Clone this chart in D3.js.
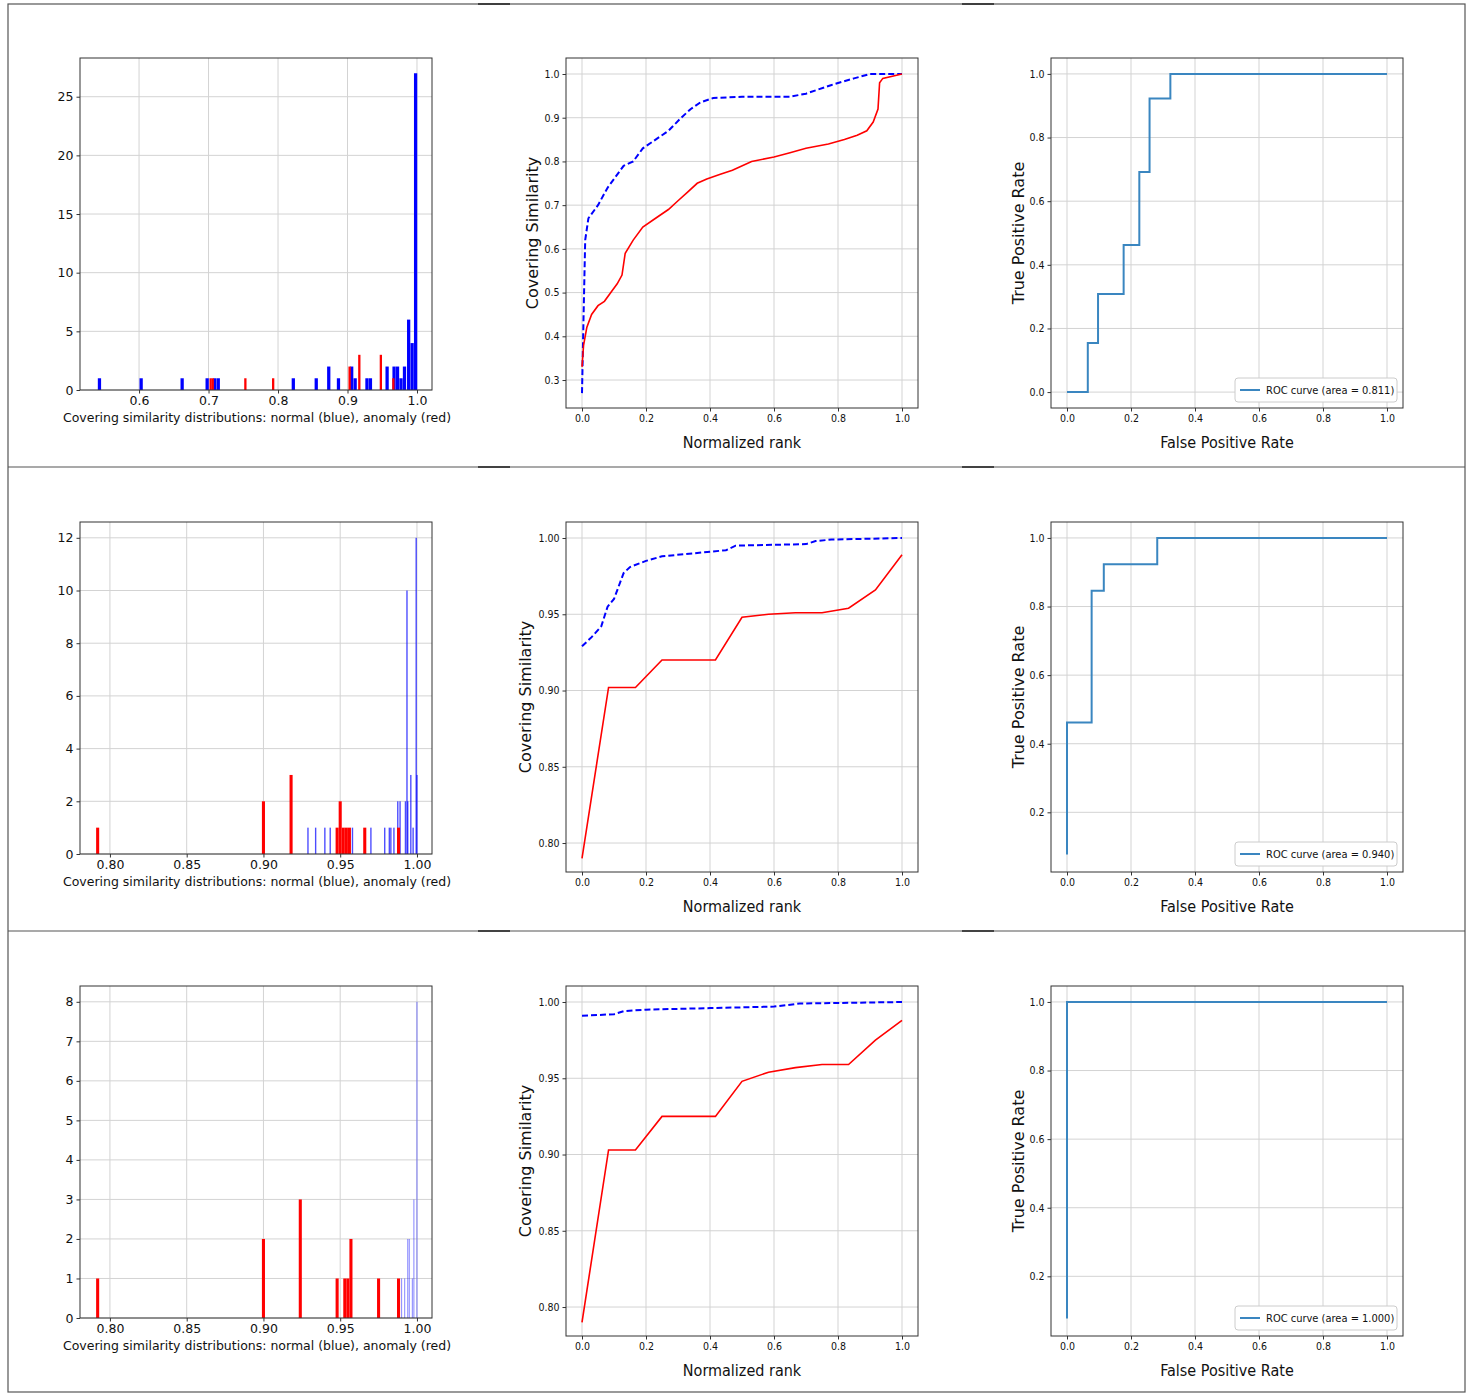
<!DOCTYPE html>
<html><head><meta charset="utf-8">
<script src="https://cdn.jsdelivr.net/npm/d3@7"></script>
<style>body{margin:0;background:#fff}</style></head>
<body><svg id="c" width="1470" height="1393"></svg>
<script>
// ---- data ----
const hist1Blue=[[0.543,1],[0.603,1],[0.662,1],[0.698,1],[0.709,1],[0.714,1],[0.822,1],[0.855,1],[0.873,2],[0.887,1],[0.906,2],[0.911,1],[0.928,1],[0.933,1],[0.957,2],[0.967,2],[0.972,2],[0.977,1],[0.982,2],[0.988,6],[0.993,4],[0.998,27]];
const hist1Red=[[0.703,1],[0.706,1],[0.753,1],[0.793,1],[0.903,2],[0.917,3],[0.948,3],[0.966,1]];
const hist2Blue=[[0.929,1],[0.934,1],[0.940,1],[0.9435,1],[0.958,1],[0.970,1],[0.979,1],[0.982,1],[0.983,1],[0.985,1],[0.9875,2],[0.989,2],[0.9925,2],[0.9935,10],[0.994,2],[0.996,3],[0.9975,1],[0.9995,12],[1.0,3]];
const hist2Red=[[0.792,1],[0.900,2],[0.918,3],[0.948,1],[0.950,2],[0.952,1],[0.954,1],[0.956,1],[0.966,1],[0.988,1]];
const hist3Blue=[[0.990,1],[0.992,1],[0.994,2],[0.995,2],[0.997,1],[0.998,3],[1.0,8]];
const hist3Red=[[0.792,1],[0.900,2],[0.924,3],[0.948,1],[0.953,1],[0.955,1],[0.957,2],[0.975,1],[0.988,1]];
const rank1Red=[[0,0.33],[0.005,0.38],[0.015,0.42],[0.03,0.45],[0.05,0.47],[0.07,0.48],[0.09,0.5],[0.11,0.52],[0.125,0.54],[0.135,0.59],[0.16,0.62],[0.19,0.65],[0.23,0.67],[0.27,0.69],[0.3,0.71],[0.33,0.73],[0.36,0.75],[0.39,0.76],[0.43,0.77],[0.47,0.78],[0.53,0.8],[0.6,0.81],[0.65,0.82],[0.7,0.83],[0.77,0.84],[0.82,0.85],[0.86,0.86],[0.89,0.87],[0.91,0.89],[0.925,0.92],[0.93,0.98],[0.94,0.99],[1,1]];
const rank1Blue=[[0,0.27],[0.005,0.45],[0.01,0.62],[0.02,0.67],[0.05,0.7],[0.08,0.74],[0.1,0.76],[0.13,0.79],[0.16,0.8],[0.19,0.83],[0.23,0.85],[0.27,0.87],[0.31,0.9],[0.34,0.92],[0.37,0.935],[0.41,0.945],[0.5,0.948],[0.65,0.948],[0.7,0.955],[0.78,0.975],[0.85,0.99],[0.9,1],[1,1]];
const rank2Red=[[0,0.79],[0.083,0.902],[0.167,0.902],[0.25,0.92],[0.417,0.92],[0.5,0.948],[0.583,0.95],[0.667,0.951],[0.75,0.951],[0.833,0.954],[0.917,0.966],[1,0.989]];
const rank2Blue=[[0,0.929],[0.03,0.935],[0.06,0.942],[0.08,0.955],[0.1,0.96],[0.13,0.977],[0.15,0.981],[0.2,0.985],[0.25,0.988],[0.35,0.99],[0.45,0.992],[0.48,0.995],[0.7,0.996],[0.73,0.998],[0.78,0.999],[1,1]];
const rank3Red=[[0,0.79],[0.083,0.903],[0.167,0.903],[0.25,0.925],[0.417,0.925],[0.5,0.948],[0.583,0.954],[0.667,0.957],[0.75,0.959],[0.833,0.959],[0.917,0.975],[1,0.988]];
const rank3Blue=[[0,0.991],[0.1,0.992],[0.13,0.994],[0.2,0.995],[0.4,0.996],[0.6,0.997],[0.68,0.999],[1,1]];
const roc1=[[0,0],[0.065,0],[0.065,0.154],[0.097,0.154],[0.097,0.308],[0.177,0.308],[0.177,0.462],[0.226,0.462],[0.226,0.692],[0.258,0.692],[0.258,0.923],[0.323,0.923],[0.323,1],[1,1]];
const roc2=[[0,0.077],[0,0.462],[0.077,0.462],[0.077,0.846],[0.115,0.846],[0.115,0.923],[0.282,0.923],[0.282,1],[1,1]];
const roc3=[[0,0.077],[0,1],[1,1]];
const aucLabels=["ROC curve (area = 0.811)","ROC curve (area = 0.940)","ROC curve (area = 1.000)"];
const histTicks1=[0.6,0.7,0.8,0.9,1.0], histYTicks1=[0,5,10,15,20,25];
const histTicks2=[0.80,0.85,0.90,0.95,1.00], histYTicks2=[0,2,4,6,8,10,12], histYTicks3=[0,1,2,3,4,5,6,7,8];
const rankYTicks1=[0.3,0.4,0.5,0.6,0.7,0.8,0.9,1.0], rankYTicks2=[0.80,0.85,0.90,0.95,1.00];
const unitTicks=[0,0.2,0.4,0.6,0.8,1.0], rocYTicks2=[0.2,0.4,0.6,0.8,1.0];

const svg=d3.select("#c");
svg.append("rect").attr("x",8).attr("y",4).attr("width",1457).attr("height",1388).attr("fill","none").attr("stroke","#555").attr("stroke-width",1.2);
[467,931].forEach(y=>svg.append("line").attr("x1",8).attr("x2",1465).attr("y1",y).attr("y2",y).attr("stroke","#555").attr("stroke-width",1.2));
[[478,510],[962,994]].forEach(([a,b])=>[4,467,931].forEach(y=>svg.append("line").attr("x1",a).attr("x2",b).attr("y1",y).attr("y2",y).attr("stroke","#222").attr("stroke-width",1.5)));

function panel(o){
  const g=svg.append("g");
  const x=d3.scaleLinear().domain(o.xd).range([o.x0,o.x1]);
  const y=d3.scaleLinear().domain(o.yd).range([o.y1,o.y0]);
  const fam=o.cond?"DejaVu Sans Condensed, DejaVu Sans":"DejaVu Sans";
  o.xt.forEach(t=>g.append("line").attr("x1",x(t)).attr("x2",x(t)).attr("y1",o.y0).attr("y2",o.y1).attr("stroke","#d3d3d3"));
  o.yt.forEach(t=>g.append("line").attr("y1",y(t)).attr("y2",y(t)).attr("x1",o.x0).attr("x2",o.x1).attr("stroke","#d3d3d3"));
  o.draw(g,x,y);
  g.append("rect").attr("x",o.x0).attr("y",o.y0).attr("width",o.x1-o.x0).attr("height",o.y1-o.y0).attr("fill","none").attr("stroke","#333");
  const ax=g.append("g").attr("transform",`translate(0,${o.y1})`).call(d3.axisBottom(x).tickValues(o.xt).tickFormat(d3.format(o.xf)).tickSize(3.5));
  const ay=g.append("g").attr("transform",`translate(${o.x0},0)`).call(d3.axisLeft(y).tickValues(o.yt).tickFormat(d3.format(o.yf)).tickSize(3.5));
  [ax,ay].forEach(a=>{a.select(".domain").remove();a.selectAll("text").attr("font-family",fam).attr("font-size",o.fs).attr("fill","#111");a.selectAll("line").attr("stroke","#333");});
  if(o.xl) g.append("text").attr("x",o.xlx||(o.x0+o.x1)/2).attr("y",o.y1+o.xly).attr("text-anchor","middle").attr("font-family",fam).attr("font-size",o.lfs).attr("fill","#111").text(o.xl);
  if(o.yl) g.append("text").attr("transform",`translate(${o.x0-o.ylx},${(o.y0+o.y1)/2}) rotate(-90)`).attr("text-anchor","middle").attr("font-family","DejaVu Sans").attr("font-size",o.lfs).attr("fill","#111").text(o.yl);
}
function bars(data,w,col,op){return (g,x,y)=>g.selectAll(null).data(data).enter().append("rect")
  .attr("x",d=>x(d[0]-w/2)).attr("width",d=>Math.max(1,x(d[0]+w/2)-x(d[0]-w/2))).attr("y",d=>y(d[1])).attr("height",d=>y(0)-y(d[1])).attr("fill",col).attr("opacity",op);}
const line=(x,y)=>d3.line().x(d=>x(d[0])).y(d=>y(d[1]));

const rows=[
 {hb:hist1Blue,hr:hist1Red,hxd:[0.515,1.0216],hyd:[0,28.3],hxt:histTicks1,hyt:histYTicks1,hxf:".1f",bw:0.0047,rw:0.0033,bop:1,
  rr:rank1Red,rb:rank1Blue,ryd:[0.236,1.0366],ryt:rankYTicks1,ryf:".1f",ylx:28,roc:roc1,cyd:[-0.05,1.05],cyt:unitTicks},
 {hb:hist2Blue,hr:hist2Red,hxd:[0.7805,1.0098],hyd:[0,12.6],hxt:histTicks2,hyt:histYTicks2,hxf:".2f",bw:0.0009,rw:0.002,bop:0.7,
  rr:rank2Red,rb:rank2Blue,ryd:[0.781,1.0105],ryt:rankYTicks2,ryf:".2f",ylx:35,roc:roc2,cyd:[0.026,1.0465],cyt:rocYTicks2},
 {hb:hist3Blue,hr:hist3Red,hxd:[0.7805,1.0098],hyd:[0,8.4],hxt:histTicks2,hyt:histYTicks3,hxf:".2f",bw:0.0007,rw:0.002,bop:0.45,
  rr:rank3Red,rb:rank3Blue,ryd:[0.781,1.0105],ryt:rankYTicks2,ryf:".2f",ylx:35,roc:roc3,cyd:[0.026,1.0465],cyt:rocYTicks2}
];
rows.forEach((r,i)=>{
  const off=i*464;
  panel({x0:80,x1:432,y0:58+off,y1:390+off,xd:r.hxd,yd:r.hyd,xt:r.hxt,yt:r.hyt,xf:r.hxf,yf:"d",fs:12.5,lfs:12.5,
    xl:"Covering similarity distributions: normal (blue), anomaly (red)",xlx:257,xly:32,
    draw:(g,x,y)=>{bars(r.hb,r.bw,"#0000ff",r.bop)(g,x,y);bars(r.hr,r.rw,"#ff0000",1)(g,x,y);}});
  panel({x0:566,x1:918,y0:58+off,y1:408+off,xd:[-0.05,1.05],yd:r.ryd,xt:unitTicks,yt:r.ryt,xf:".1f",yf:r.ryf,fs:10.5,lfs:16,cond:true,
    xl:"Normalized rank",xly:40,yl:"Covering Similarity",ylx:r.ylx,
    draw:(g,x,y)=>{g.append("path").datum(r.rb).attr("d",line(x,y)).attr("fill","none").attr("stroke","#0000ff").attr("stroke-width",2).attr("stroke-dasharray","6,3");
      g.append("path").datum(r.rr).attr("d",line(x,y)).attr("fill","none").attr("stroke","#ff0000").attr("stroke-width",1.6);}});
  panel({x0:1051,x1:1403,y0:58+off,y1:408+off,xd:[-0.05,1.05],yd:r.cyd,xt:unitTicks,yt:r.cyt,xf:".1f",yf:".1f",fs:10.5,lfs:16,cond:true,
    xl:"False Positive Rate",xly:40,yl:"True Positive Rate",ylx:27,
    draw:(g,x,y)=>{g.append("path").datum(r.roc).attr("d",line(x,y)).attr("fill","none").attr("stroke","#3a86c0").attr("stroke-width",2);
      const ly=390+off;
      g.append("rect").attr("x",1235).attr("y",ly-12).attr("width",162).attr("height",24).attr("rx",3).attr("fill","#fff").attr("stroke","#ccc");
      g.append("line").attr("x1",1240).attr("x2",1260).attr("y1",ly).attr("y2",ly).attr("stroke","#3a86c0").attr("stroke-width",2);
      g.append("text").attr("x",1266).attr("y",ly+4).attr("font-family","DejaVu Sans Condensed, DejaVu Sans").attr("font-size",11).attr("fill","#111").text(aucLabels[i]);}});
});
</script></body></html>
